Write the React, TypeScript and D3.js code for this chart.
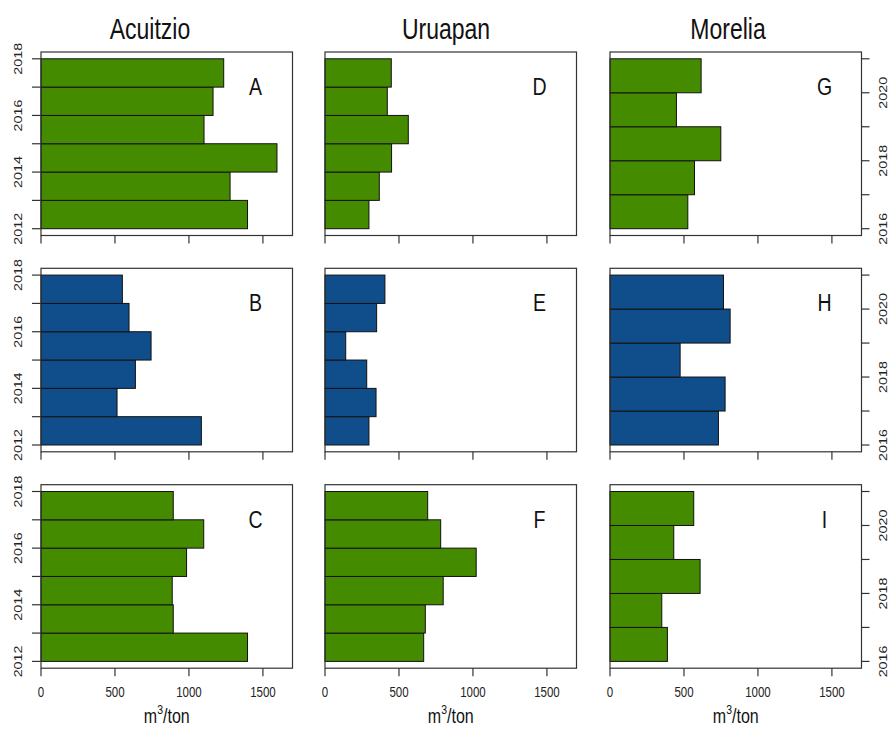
import React from "react";
import * as d3 from "d3";

const locations = ["Acuitzio", "Uruapan", "Morelia"];
const panelLetters = [["A", "B", "C"], ["D", "E", "F"], ["G", "H", "I"]];
const yearsAU = [2012, 2013, 2014, 2015, 2016, 2017];
const yearsMor = [2016, 2017, 2018, 2019, 2020];
const yearTicksAU = [2012, 2013, 2014, 2015, 2016, 2017, 2018];
const yearLabelsAU = [2012, 2014, 2016, 2018];
const yearTicksMor = [2016, 2017, 2018, 2019, 2020, 2021];
const yearLabelsMor = [2016, 2018, 2020];
const xTicks = [0, 500, 1000, 1500];

const acuitzioTop = [1396, 1278, 1595, 1102, 1163, 1235];
const acuitzioMid = [1084, 514, 638, 744, 595, 550];
const acuitzioBot = [1396, 894, 887, 984, 1100, 894];
const uruapanTop = [297, 367, 450, 563, 421, 448];
const uruapanMid = [297, 345, 282, 140, 349, 405];
const uruapanBot = [667, 678, 799, 1022, 782, 694];
const moreliaTop = [526, 571, 749, 449, 616];
const moreliaMid = [733, 778, 474, 812, 767];
const moreliaBot = [388, 350, 609, 431, 566];

const GREEN = "#458B00";
const BLUE = "#104E8B";
const rowColors = [GREEN, BLUE, GREEN];

const W = 890;
const H = 734;
const colX = [41, 325, 610];
const panelW = 251.5;
const rowY = [52, 268.3, 484.7];
const panelH = 183.5;
const SY = 1.25;
const FONT = "Liberation Sans, Arial, Helvetica, sans-serif";
const titleX = [150, 446, 728];

function Panel({ col, row, values, years, ticks, labels }) {
  const x0 = colX[col];
  const y0 = rowY[row];
  const first = years[0];
  const last = years[years.length - 1] + 1;
  const pad = (last - first) * 0.04;
  const x = d3.scaleLinear().domain([0, 1700]).range([x0, x0 + panelW]);
  const y = d3.scaleLinear().domain([first - pad, last + pad]).range([y0 + panelH, y0]);
  const tickLen = 8;
  const axisColor = "#333";
  return (
    <g>
      {years.map((yr, i) => (
        <rect
          key={yr}
          x={x(0)}
          y={y(yr + 1)}
          width={x(values[i]) - x(0)}
          height={y(yr) - y(yr + 1)}
          fill={rowColors[row]}
          stroke="#111"
          strokeWidth={1}
        />
      ))}
      <rect x={x0} y={y0} width={panelW} height={panelH} fill="none" stroke={axisColor} strokeWidth={1.2} />
      {xTicks.map((t) => (
        <line key={t} x1={x(t)} x2={x(t)} y1={y0 + panelH} y2={y0 + panelH + tickLen} stroke={axisColor} strokeWidth={1.2} />
      ))}
      {row === 2 &&
        xTicks.map((t) => (
          <text
            key={"l" + t}
            transform={`translate(${x(t)},${y0 + panelH + 29}) scale(1,${SY})`}
            textAnchor="middle"
            fontFamily={FONT}
            fontSize={11.5}
            fill="#222"
          >
            {t}
          </text>
        ))}
      {col === 0 &&
        ticks.map((t) => (
          <line key={"yt" + t} x1={x0 - tickLen - 1} x2={x0} y1={y(t)} y2={y(t)} stroke={axisColor} strokeWidth={1.2} />
        ))}
      {col === 0 &&
        labels.map((t) => (
          <text
            key={"yl" + t}
            transform={`translate(${x0 - 19},${y(t)}) scale(1,${SY}) rotate(-90)`}
            textAnchor="middle"
            fontFamily={FONT}
            fontSize={11.5}
            fill="#222"
          >
            {t}
          </text>
        ))}
      {col === 2 &&
        ticks.map((t) => (
          <line key={"yt" + t} x1={x0 + panelW} x2={x0 + panelW + tickLen} y1={y(t)} y2={y(t)} stroke={axisColor} strokeWidth={1.2} />
        ))}
      {col === 2 &&
        labels.map((t) => (
          <text
            key={"yl" + t}
            transform={`translate(${x0 + panelW + 25.5},${y(t)}) scale(1,${SY}) rotate(-90)`}
            textAnchor="middle"
            fontFamily={FONT}
            fontSize={11.5}
            fill="#222"
          >
            {t}
          </text>
        ))}
      <text
        transform={`translate(${x(1450)},${y0 + 43}) scale(1,${SY})`}
        textAnchor="middle"
        fontFamily={FONT}
        fontSize={19.5}
        fill="#111"
      >
        {panelLetters[col][row]}
      </text>
    </g>
  );
}

export default function App() {
  const data = [
    [acuitzioTop, acuitzioMid, acuitzioBot],
    [uruapanTop, uruapanMid, uruapanBot],
    [moreliaTop, moreliaMid, moreliaBot],
  ];
  return (
    <svg
      width={W}
      height={H}
      viewBox={`0 0 ${W} ${H}`}
      style={{ position: "absolute", left: 0, top: 0, background: "#fff" }}
    >
      <rect x={0} y={0} width={W} height={H} fill="#fff" />
      {locations.map((loc, c) => (
        <text
          key={loc}
          transform={`translate(${titleX[c]},${39}) scale(1,${SY})`}
          textAnchor="middle"
          fontFamily={FONT}
          fontSize={23}
          fill="#111"
        >
          {loc}
        </text>
      ))}
      {data.map((colData, c) =>
        colData.map((vals, r) => (
          <Panel
            key={c + "-" + r}
            col={c}
            row={r}
            values={vals}
            years={c === 2 ? yearsMor : yearsAU}
            ticks={c === 2 ? yearTicksMor : yearTicksAU}
            labels={c === 2 ? yearLabelsMor : yearLabelsAU}
          />
        ))
      )}
      {colX.map((cx, c) => (
        <text
          key={"xl" + c}
          transform={`translate(${cx + panelW / 2},${723}) scale(1,${SY})`}
          textAnchor="middle"
          fontFamily={FONT}
          fontSize={16}
          fill="#111"
        >
          m<tspan dy={-7} fontSize={10.5}>3</tspan>
          <tspan dy={7}>/ton</tspan>
        </text>
      ))}
    </svg>
  );
}
